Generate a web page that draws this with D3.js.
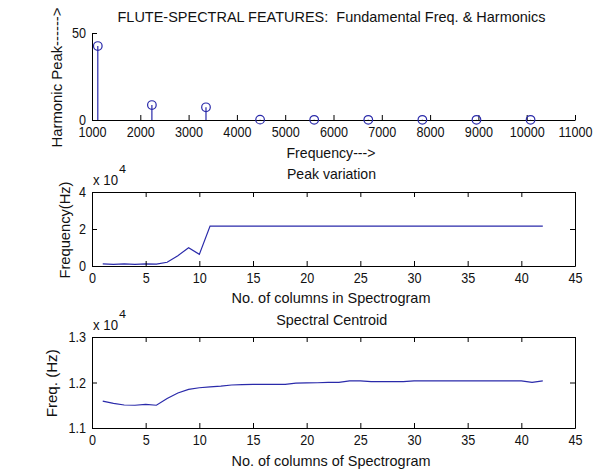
<!DOCTYPE html>
<html>
<head>
<meta charset="utf-8">
<script src="https://cdn.jsdelivr.net/npm/d3@7"></script>
<style>
  html, body { margin: 0; padding: 0; background: #fff; }
  svg { display: block; }
  text { font-family: "Liberation Sans", Arial, Helvetica, sans-serif; font-size: 15px; fill: #111; white-space: pre; }
</style>
</head>
<body>
<svg id="chart" width="601" height="473"></svg>
<script>
// ---------- data ----------
const harmonicFreqs = [1120, 2240, 3360, 4480, 5600, 6720, 7840, 8960, 10080];
const harmonicPeaks = [42.5, 8.6, 7.3, 0.2, 0.1, 0.1, 0.1, 0.1, 0.1];
const freqTicks = [1000, 2000, 3000, 4000, 5000, 6000, 7000, 8000, 9000, 10000, 11000];
const peakTicks = [0, 50];

const columns = d3.range(1, 43);
const peakVariation = [1120, 900, 1120, 900, 1120, 1000, 2000, 5600, 9900, 6300, 21600,
  21600, 21600, 21600, 21600, 21600, 21600, 21600, 21600, 21600, 21600, 21600,
  21600, 21600, 21600, 21600, 21600, 21600, 21600, 21600, 21600, 21600, 21600,
  21600, 21600, 21600, 21600, 21600, 21600, 21600, 21600, 21600];
const peakYTicks = [0, 20000, 40000];

const spectralCentroid = [11590, 11540, 11505, 11500, 11520, 11500, 11650, 11770, 11850, 11885,
  11905, 11920, 11945, 11955, 11960, 11960, 11960, 11960, 11985, 11990,
  11995, 12002, 12002, 12035, 12035, 12018, 12018, 12018, 12018, 12035,
  12035, 12035, 12035, 12035, 12035, 12035, 12035, 12035, 12035, 12035,
  12005, 12035];
const centroidYTicks = [11000, 12000, 13000];
const columnTicks = [0, 5, 10, 15, 20, 25, 30, 35, 40, 45];

// ---------- helpers ----------
const SX = 0.87;          // horizontal squeeze for tick digits
const TICK_FONT = 14.5;
const LINE = "#2a2aaa";
const svg = d3.select("#chart");

// label with a fixed rendered length (textLength) to match the reference
function label(x, y, str, len, rot, anchor, size) {
  const t = svg.append("text")
    .attr("transform", `translate(${x},${y})${rot ? " rotate(-90)" : ""}`)
    .attr("text-anchor", anchor || "middle")
    .attr("xml:space", "preserve")
    .text(str);
  if (len) t.attr("textLength", len).attr("lengthAdjust", "spacingAndGlyphs");
  if (size) t.style("font-size", size + "px");
  return t;
}

function styleAxis(g) {
  g.selectAll("path.domain").attr("stroke", "#000");
  g.selectAll(".tick line").attr("stroke", "#000");
  g.selectAll("text").style("font-size", TICK_FONT + "px").attr("fill", "#111")
    .style("font-family", '"Liberation Sans", Arial, sans-serif');
}

function bottomAxis(x, y0, ticks, fmt) {
  const g = svg.append("g").attr("transform", `translate(0,${y0})`)
    .call(d3.axisBottom(x).tickValues(ticks).tickSizeInner(-5).tickSizeOuter(0).tickPadding(6.7).tickFormat(fmt || d3.format("d")));
  styleAxis(g);
  g.selectAll(".tick text").attr("transform", `scale(${SX},1)`);
  return g;
}
function leftAxis(y, x0, ticks, fmt) {
  const g = svg.append("g").attr("transform", `translate(${x0},0)`)
    .call(d3.axisLeft(y).tickValues(ticks).tickSizeInner(-5).tickSizeOuter(0).tickPadding(5).tickFormat(fmt || d3.format("d")));
  styleAxis(g);
  g.selectAll(".tick text").attr("x", -6 / SX).attr("transform", `scale(${SX},1)`);
  return g;
}
function topAxis(x, y0, ticks) {
  const g = svg.append("g").attr("transform", `translate(0,${y0})`)
    .call(d3.axisTop(x).tickValues(ticks).tickSizeInner(-5).tickSizeOuter(0).tickFormat(""));
  styleAxis(g);
}
function rightAxis(y, x0, ticks) {
  const g = svg.append("g").attr("transform", `translate(${x0},0)`)
    .call(d3.axisRight(y).tickValues(ticks).tickSizeInner(-5).tickSizeOuter(0).tickFormat(""));
  styleAxis(g);
}
function exponent(yBase) {
  label(93, yBase, "x 10", 25, false, "start", 14);
  label(119, yBase - 12, "4", 7, false, "start", 10);
}

const L = 92, R = 575;

// ---------- panel 1: stem plot ----------
{
  const x = d3.scaleLinear().domain([1000, 11000]).range([L, R]);
  const y = d3.scaleLinear().domain([0, 50]).range([120, 33]);
  const data = harmonicFreqs.map((f, i) => ({ f, p: harmonicPeaks[i] }));
  svg.append("g").selectAll("line").data(data).join("line")
    .attr("x1", d => x(d.f)).attr("x2", d => x(d.f))
    .attr("y1", y(0)).attr("y2", d => y(d.p))
    .attr("stroke", LINE).attr("stroke-width", 1.2);
  bottomAxis(x, 120, freqTicks);
  leftAxis(y, L, peakTicks);
  svg.append("g").selectAll("circle").data(data).join("circle")
    .attr("cx", d => x(d.f)).attr("cy", d => y(d.p)).attr("r", 4.3)
    .attr("fill", "none").attr("stroke", LINE).attr("stroke-width", 1.2);
  label(331.5, 22, "FLUTE-SPECTRAL FEATURES:  Fundamental Freq. & Harmonics", 428);
  label(331, 158, "Frequency--->", 89);
  label(62, 77.5, "Harmonic Peak------>", 140, true);
}

// ---------- panel 2: peak variation ----------
{
  const x = d3.scaleLinear().domain([0, 45]).range([L, R]);
  const y = d3.scaleLinear().domain([0, 40000]).range([266, 192]);
  svg.append("path").datum(columns)
    .attr("d", d3.line().x(c => x(c)).y((c, i) => y(peakVariation[i])))
    .attr("fill", "none").attr("stroke", LINE).attr("stroke-width", 1.2);
  bottomAxis(x, 266, columnTicks);
  leftAxis(y, L, peakYTicks, v => d3.format("d")(v / 10000));
  topAxis(x, 192, columnTicks);
  rightAxis(y, R, peakYTicks);
  label(331.5, 179, "Peak variation", 89);
  label(331, 303, "No. of columns in Spectrogram", 199);
  label(70, 230, "Frequency(Hz)", 97, true);
  exponent(185);
}

// ---------- panel 3: spectral centroid ----------
{
  const x = d3.scaleLinear().domain([0, 45]).range([L, R]);
  const y = d3.scaleLinear().domain([11000, 13000]).range([428, 337]);
  svg.append("path").datum(columns)
    .attr("d", d3.line().x(c => x(c)).y((c, i) => y(spectralCentroid[i])))
    .attr("fill", "none").attr("stroke", LINE).attr("stroke-width", 1.2);
  bottomAxis(x, 428, columnTicks);
  leftAxis(y, L, centroidYTicks, v => d3.format(".1f")(v / 10000));
  topAxis(x, 337, columnTicks);
  rightAxis(y, R, centroidYTicks);
  label(331.7, 325, "Spectral Centroid", 111);
  label(331, 466, "No. of columns of Spectrogram", 199);
  label(57, 383.3, "Freq. (Hz)", 68, true);
  exponent(330);
}
</script>
</body>
</html>
